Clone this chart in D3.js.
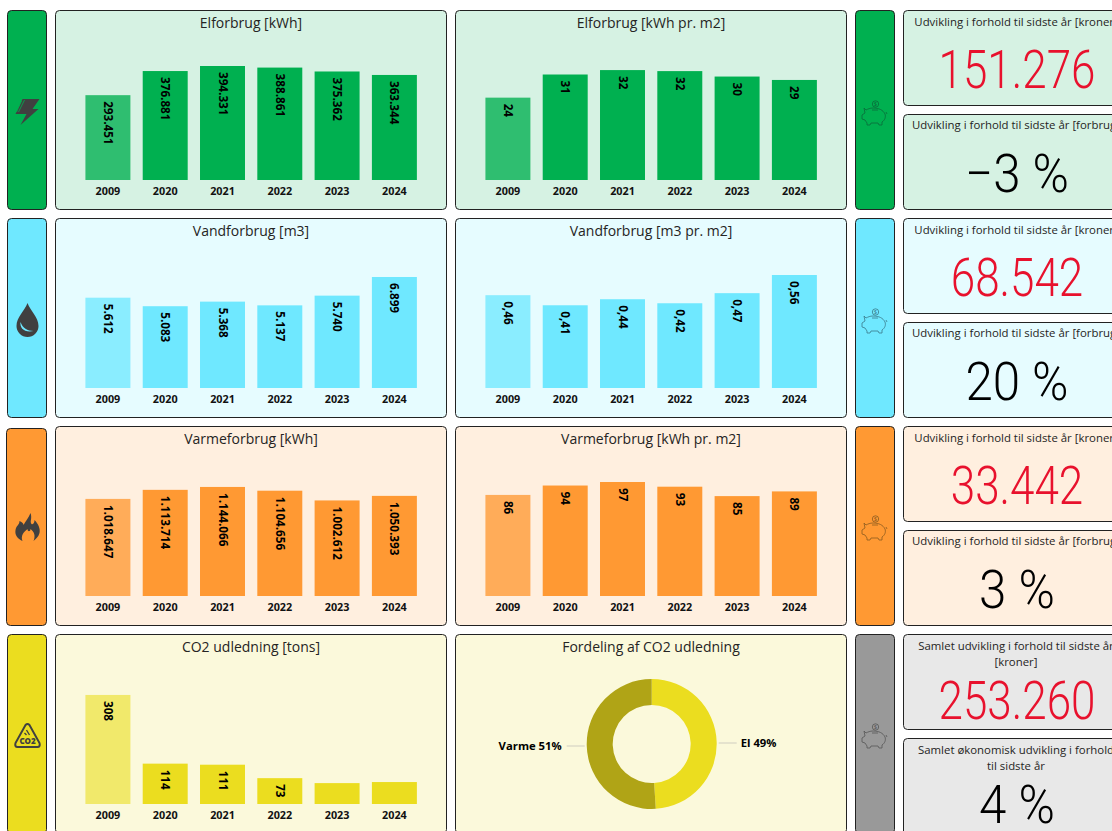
<!DOCTYPE html>
<html><head><meta charset="utf-8">
<script src="https://cdn.jsdelivr.net/npm/d3@7"></script>
<style>
html,body{margin:0;padding:0;background:#fff;overflow:hidden}
svg{display:block}
text{font-family:"Open Sans","Noto Sans",sans-serif}
</style></head><body>
<svg id="c" width="1112" height="831"></svg>
<script>
// ---------- data ----------
const years = ["2009","2020","2021","2022","2023","2024"];
const elKwh = [293451,376881,394331,388861,375362,363344];
const elM2 = [24.2,31,32.3,32,30.4,29.4];
const waterM3 = [5612,5083,5368,5137,5740,6899];
const waterM2 = [0.46,0.41,0.44,0.42,0.47,0.56];
const heatKwh = [1018647,1113714,1144066,1104656,1002612,1050393];
const heatM2 = [86,94,97,93,85,89];
const co2Tons = [308,114,111,73,59,62];
const shareNames = ["El","Varme"];
const shareValues = [49,51];
const kpiKroner = ["151.276","68.542","33.442","253.260"];
const kpiPercent = ["\u22123 %","20 %","3 %","4 %"];
const kpiTitleKroner = ["Udvikling i forhold til sidste år [kroner]","Udvikling i forhold til sidste år [kroner]","Udvikling i forhold til sidste år [kroner]","Samlet udvikling i forhold til sidste år|[kroner]"];
const kpiTitlePercent = ["Udvikling i forhold til sidste år [forbrug]","Udvikling i forhold til sidste år [forbrug]","Udvikling i forhold til sidste år [forbrug]","Samlet økonomisk udvikling i forhold|til sidste år"];
const chartTitles = [["Elforbrug [kWh]","Elforbrug [kWh pr. m2]"],["Vandforbrug [m3]","Vandforbrug [m3 pr. m2]"],["Varmeforbrug [kWh]","Varmeforbrug [kWh pr. m2]"],["CO2 udledning [tons]","Fordeling af CO2 udledning"]];

// ---------- style / layout ----------
const strong = ["#00B050","#6FE8FF","#FF9933","#EBDD1F"];
const pale = ["#D6F2E3","#E6FCFF","#FFEFDF","#FBF9DB"];
const kpiPale = ["#D6F2E3","#E6FCFF","#FFEFDF","#E8E8E8"];
const firstBarOpacity = [0.78,0.78,0.78,0.6];
const pigInk = ["#0A6A3A","#3A7A8A","#8A5A20","#555555"];
const rowTop = [11,219,427,635];
const baseline = [180,388,596,804];
const fmt = d3.formatLocale({decimal:",",thousands:".",grouping:[3],currency:["","kr"]});
const svg = d3.select("#c");
const ink = "#222";

function box(x,y,w,h,fill){
  svg.append("rect").attr("x",x+.5).attr("y",y+.5).attr("width",w-1).attr("height",h-1)
    .attr("rx",4).attr("fill",fill).attr("stroke",ink).attr("stroke-width",1);
}
function title(cx,y,t,size){
  svg.append("text").attr("x",cx).attr("y",y).attr("text-anchor","middle")
    .attr("font-size",size).attr("fill","#252423").text(t);
}
function barChart(px,row,vals,domMax,format,minLabelH){
  const x = d3.scaleBand().domain(years).range([18.1,374.2]).padding(.215);
  const base = baseline[row];
  const y = d3.scaleLinear().domain([0,domMax]).range([base,base-114]);
  const pts = vals.map((v,i)=>({year:years[i],v,i}));
  const g = svg.append("g").attr("transform",`translate(${px},0)`);
  g.selectAll("rect").data(pts).join("rect")
    .attr("x",d=>x(d.year)).attr("width",x.bandwidth())
    .attr("y",d=>y(d.v)).attr("height",d=>base-y(d.v))
    .attr("fill",strong[row]).attr("fill-opacity",d=>d.i===0?firstBarOpacity[row]:1);
  g.selectAll("text.v").data(pts.filter(d=>base-y(d.v)>=minLabelH)).join("text").attr("class","v")
    .attr("transform",d=>`translate(${x(d.year)+x.bandwidth()/2-4},${y(d.v)+6}) rotate(90)`)
    .attr("font-size",11.7).attr("font-weight",700).attr("fill","#000").text(d=>format(d.v));
  const ax = g.append("g").attr("transform",`translate(0,${base})`)
    .call(d3.axisBottom(x).tickSize(0).tickPadding(4));
  ax.select(".domain").remove();
  ax.selectAll("text").attr("font-size",10.8).attr("font-weight",700).attr("fill","#111").attr("dy","1em")
    .attr("font-family",'"Open Sans",sans-serif');
}
function bolt(cx,cy,c){
  const g=svg.append("g").attr("transform",`translate(${cx},${cy})`);
  g.append("path").attr("d","M-5,-13 L12,-13 L5,-3 L11,-3 L-7,13 L-1,2 L-12,2 Z").attr("fill",c);
  g.append("path").attr("d","M-6,-11 L-11,0 M-3,-12 L-9,0").attr("stroke",strong[0]).attr("stroke-width",.8);
}
function drop(cx,cy,c){
  const g=svg.append("g").attr("transform",`translate(${cx},${cy})`);
  g.append("path").attr("d","M0,-17 C3,-9 11,-3 11,6 A11,11 0 0 1 -11,6 C-11,-3 -3,-9 0,-17 Z").attr("fill",c);
  g.append("path").attr("d","M-7,2 C-8,8 -3,13 6,11 C0,11 -5,8 -7,2 Z").attr("fill",strong[1]);
}
function flame(cx,cy,c){
  const g=svg.append("g").attr("transform",`translate(${cx},${cy})`);
  g.append("path").attr("d","M3,-14 C5,-8 2,-6 4,-3 C6,-2 7,-5 7,-7 C11,-3 13,2 12,6 C11,10 8,12 6,14 C8,9 7,5 3,2 C3,5 0,5 0,2 C-4,5 -7,9 -5,14 C-9,12 -13,9 -12,3 C-11,-2 -8,-2 -8,-6 C-5,-5 -4,-3 -4,-2 C-2,-6 1,-9 3,-14 Z").attr("fill",c);
}
function co2(cx,cy,c){
  const g=svg.append("g").attr("transform",`translate(${cx},${cy+1})`);
  g.append("path").attr("d","M-2,-11 Q0,-13 2,-11 L12,7 Q13,11 10,11 L-10,11 Q-13,11 -12,7 Z").attr("fill","none").attr("stroke",c).attr("stroke-width",2);
  g.append("text").attr("x",0).attr("y",8).attr("text-anchor","middle").attr("font-size",8).attr("font-weight",800).attr("fill",c).text("CO2");
  g.append("path").attr("d","M-1,-6 L2,-1 M-3,-3 L-1,-1").attr("stroke",c).attr("stroke-width",1.4);
}
function pig(cx,cy,c){
  const g=svg.append("g").attr("transform",`translate(${cx},${cy})`).attr("fill","none").attr("stroke",c).attr("stroke-width",.8);
  g.append("circle").attr("cx",1.5).attr("cy",-9).attr("r",3.2);
  g.append("text").attr("x",1.5).attr("y",-6.8).attr("text-anchor","middle").attr("font-size",6).attr("fill",c).attr("stroke","none").text("$");
  g.append("path").attr("d","M-8,-3 L-10,-5 L-9,0 L-12,2 L-12,6 L-9,7 L-7,10 L-7,12 L-4,12 L-3,10 L4,10 L5,12 L8,12 L8,9 C11,7 12,4 11,1 C9,-3 5,-5 -1,-5 C-4,-5 -6,-4 -8,-3 Z M12,-1 L13,1 M-2,-3 L4,-3");
}
const leftIcons=[bolt,drop,flame,co2];
const leftIconY=[112,320,527,735];
const iconInk="#404040";

// ---------- rows ----------
const charts=[[elKwh,394331,elM2,33.5,fmt.format(",.0f"),fmt.format(".0f")],
 [waterM3,7085,waterM2,.565,fmt.format(",.0f"),fmt.format(".2f")],
 [heatKwh,1196000,heatM2,97,fmt.format(",.0f"),fmt.format(".0f")]];
rowTop.forEach((top,r)=>{
  if(r===2) box(6,top+1,41,198,strong[r]); else box(7,top-1,40,200,strong[r]);
  leftIcons[r](27.5,leftIconY[r],iconInk);
  box(55,top-1,392,200,pale[r]);
  box(455,top-1,392,200,pale[r]);
  title(251,top+17,chartTitles[r][0],14);
  title(651,top+17,chartTitles[r][1],14);
  box(855,top-1,40,200,r===3?"#999999":strong[r]);
  pig(874,leftIconY[r]+1,pigInk[r]);
  // KPI cards
  const y2=top+103, textShift=r===3?1:0;
  box(903,top-1,240,96,kpiPale[r]);
  box(903,y2,240,96+(r===3?10:0),kpiPale[r]);
  const cx=1017;
  kpiTitleKroner[r].split("|").forEach((t,i)=>title(cx-1,top+15+i*16,t,11.4));
  kpiTitlePercent[r].split("|").forEach((t,i)=>title(cx-1,y2+textShift+15+i*16,t,11.4));
  const big=(y,t,col,sx)=>svg.append("text")
    .attr("transform",`translate(${cx},${y}) scale(${sx},1)`)
    .attr("text-anchor","middle").attr("font-size",53).attr("font-weight",300)
    .attr("fill",col).style("font-family","Roboto").text(t);
  big(top+(r===3?84:77),kpiKroner[r],"#E8112D",.83);
  big(y2+textShift+(r===3?84:78),kpiPercent[r],"#000",.93);
});
charts.forEach((c,r)=>{
  barChart(55,r,c[0],c[1],c[4],24);
  barChart(455,r,c[2],c[3],c[5],24);
});
barChart(55,3,co2Tons,322,fmt.format(".0f"),24);

// ---------- donut ----------
const dx=651.7,dy=744;
const arc=d3.arc().innerRadius(39).outerRadius(65);
const pieData=d3.pie().sort(null)(shareValues);
const dg=svg.append("g").attr("transform",`translate(${dx},${dy})`);
const donutCols=["#EBDD1F","#B0A416"];
dg.selectAll("path").data(pieData).join("path").attr("d",arc).attr("fill",(d,i)=>donutCols[i]);
pieData.forEach((d,i)=>{
  const right=i===0;
  const ly=right?-1:2;
  dg.append("line").attr("x1",right?67:-67).attr("x2",right?85:-85).attr("y1",ly).attr("y2",ly).attr("stroke","#CFCDC0").attr("stroke-width",1);
  dg.append("text").attr("x",right?89:-90).attr("y",ly+4).attr("text-anchor",right?"start":"end")
    .attr("font-size",11.3).attr("font-weight",700).attr("fill","#000").text(`${shareNames[i]} ${shareValues[i]}%`);
});
</script></body></html>
